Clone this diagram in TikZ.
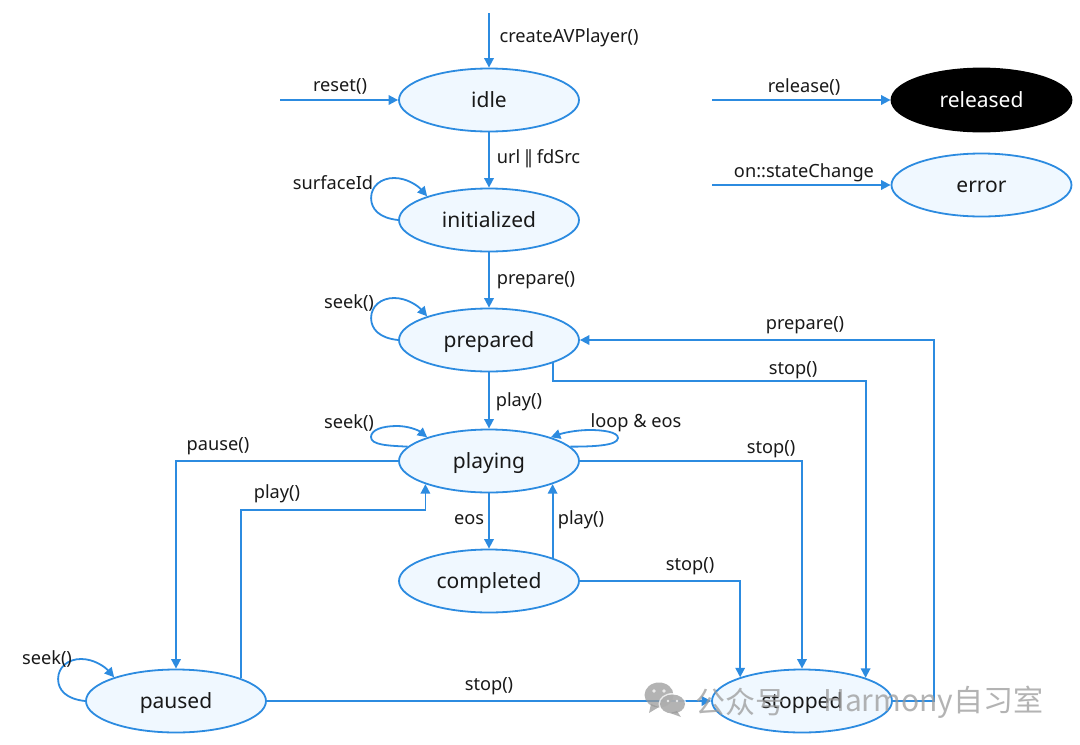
\documentclass[tikz,border=0pt]{standalone}
\usepackage{fontspec}
\setmainfont{Noto Sans}
\newfontfamily\cjkfont{Noto Sans CJK SC}
\usetikzlibrary{shapes.geometric,arrows.meta,calc}
\definecolor{linecol}{HTML}{2C8BE0}
\definecolor{fillcol}{HTML}{F0F8FF}
\definecolor{markcol}{HTML}{9A9A9A}
\newcommand{\bigloop}[1]{%
  \draw[conn] (#1.west) .. controls ($(#1.west)+(-19,-2)$) and ($(#1.west)+(-27,-11)$) .. ($(#1.west)+(-27,-22)$)
    .. controls ($(#1.west)+(-27,-34)$) and ($(#1.west)+(-17,-42)$) .. ($(#1.west)+(-4,-42)$)
    .. controls ($(#1.west)+(9,-42)$) and ($(#1.west)+(20,-34)$) .. (#1.159);}
\tikzset{
  x=1pt,y=-1pt,
  state/.style={draw=linecol,fill=fillcol,line width=1.8pt,ellipse,minimum width=180pt,minimum height=63pt,inner sep=0pt,font=\fontsize{21}{25}\selectfont,text=black!90,text height=14.8pt,text depth=0.2pt},
  conn/.style={draw=linecol,line width=1.8pt,-{Triangle[length=9.5pt,width=9.5pt]}},
  lab/.style={font=\fontsize{18.2}{22}\selectfont,text=black!90,inner sep=0pt},
  markk/.style={font=\cjkfont\fontsize{30}{34}\selectfont,text=markcol,opacity=.75,inner sep=0pt}
}
\begin{document}
\begin{tikzpicture}
\useasboundingbox (0,0) rectangle (1080,745);
\node[state] (idle) at (489,100) {idle};
\node[state] (init) at (489,220) {initialized};
\node[state] (prep) at (489,340) {prepared};
\node[state] (play) at (489,461) {playing};
\node[state] (comp) at (489,581) {completed};
\node[state] (paus) at (176,701) {paused};
\node[state] (stop) at (802,701) {stopped};
\node[state,fill=black,draw=black,text=white] (rel) at (981.5,100) {released};
\node[state] (err) at (981.5,185) {error};
\coordinate (c0) at (489,13);
\coordinate (c1) at (280,100);
\coordinate (c2) at (712,100);
\coordinate (c3) at (712,185);
\coordinate (c4) at (934,520);
\coordinate (c5) at (300,510);
\coordinate (c6) at (700,381);
\draw[conn] (c0) -- (idle.north);
\draw[conn] (c1) -- (idle.west);
\draw[conn] (c2) -- (rel.west);
\draw[conn] (c3) -- (err.west);
\draw[conn] (idle.south) -- (init.north);
\draw[conn] (init.south) -- (prep.north);
\draw[conn] (prep.south) -- (play.north);
\draw[conn] (play.south) -- (comp.north);
\draw[conn] (comp.20.5) -- (play.-20.5);
\draw[conn] (play.west) -| (paus.north);
\draw[conn] (paus.19) |- (c5) -| (play.200.5);
\draw[conn] (play.east) -| (stop.north);
\draw[conn] (comp.east) -| (stop.159.9);
\draw[conn] (prep.-20.5) |- (c6) -| (stop.20.5);
\draw[conn] (paus.east) -- (stop.west);
\draw[conn] (stop.east) -| (c4) |- (prep.east);
\bigloop{init}
\bigloop{prep}
\bigloop{paus}
\draw[conn] (play.170) .. controls ($(play.170)+(-20,-1)$) and (371,445) .. (371,437)
  .. controls (371,430) and (382,426) .. (397,426)
  .. controls (408,426) and (418,430) .. (play.159);
\draw[conn] (play.10) .. controls ($(play.10)+(20,0)$) and (618,446) .. (618,438)
  .. controls (618,432) and (603,430) .. (590,430)
  .. controls (576,430) and (563,433) .. (play.21);
\node[lab] (l1) at (569,38) {createAVPlayer()};
\node[lab] (l2) at (340,86) {reset()};
\node[lab] (l3) at (804,87) {release()};
\node[lab] (l4) at (538.5,159) {url\kern-3pt{} |\kern-7pt| \kern-3pt{}fdSrc};
\node[lab] (l5) at (333,183) {surfaceId};
\node[lab] (l6) at (804,173) {on::stateChange};
\node[lab] (l7) at (536,280) {prepare()};
\node[lab] (l8) at (349,303) {seek()};
\node[lab] (l9) at (805,325) {prepare()};
\node[lab] (l10) at (793,370) {stop()};
\node[lab] (l11) at (519,402) {play()};
\node[lab] (l12) at (349,423) {seek()};
\node[lab] (l13) at (636,423) {loop \& eos};
\node[lab] (l14) at (218,446) {pause()};
\node[lab] (l15) at (771,449) {stop()};
\node[lab] (l16) at (277,494) {play()};
\node[lab] (l17) at (469,520) {eos};
\node[lab] (l18) at (581,520) {play()};
\node[lab] (l19) at (690,566) {stop()};
\node[lab] (l20) at (47,659) {seek()};
\node[lab] (l21) at (489,686) {stop()};
\begin{scope}[opacity=.75]
\fill[markcol] (659,695) ellipse[x radius=14.5,y radius=12.5];
\fill[markcol] (651,704) -- (649,713) -- (659,707) -- cycle;
\fill[white] (672.5,704) ellipse[x radius=14,y radius=11];
\fill[markcol] (672.5,704) ellipse[x radius=12.5,y radius=9.5];
\fill[markcol] (677,711) -- (681,717) -- (670,713) -- cycle;
\fill[white] (654,691) circle[radius=1.8] (664,691) circle[radius=1.8] (668,701) circle[radius=1.4] (677,701) circle[radius=1.4];
\end{scope}
\node[markk] (m1) at (740,702) {公众号};
\node[markk,anchor=west] (m2) at (823,702) {Harmony自习室};
\end{tikzpicture}
\end{document}
